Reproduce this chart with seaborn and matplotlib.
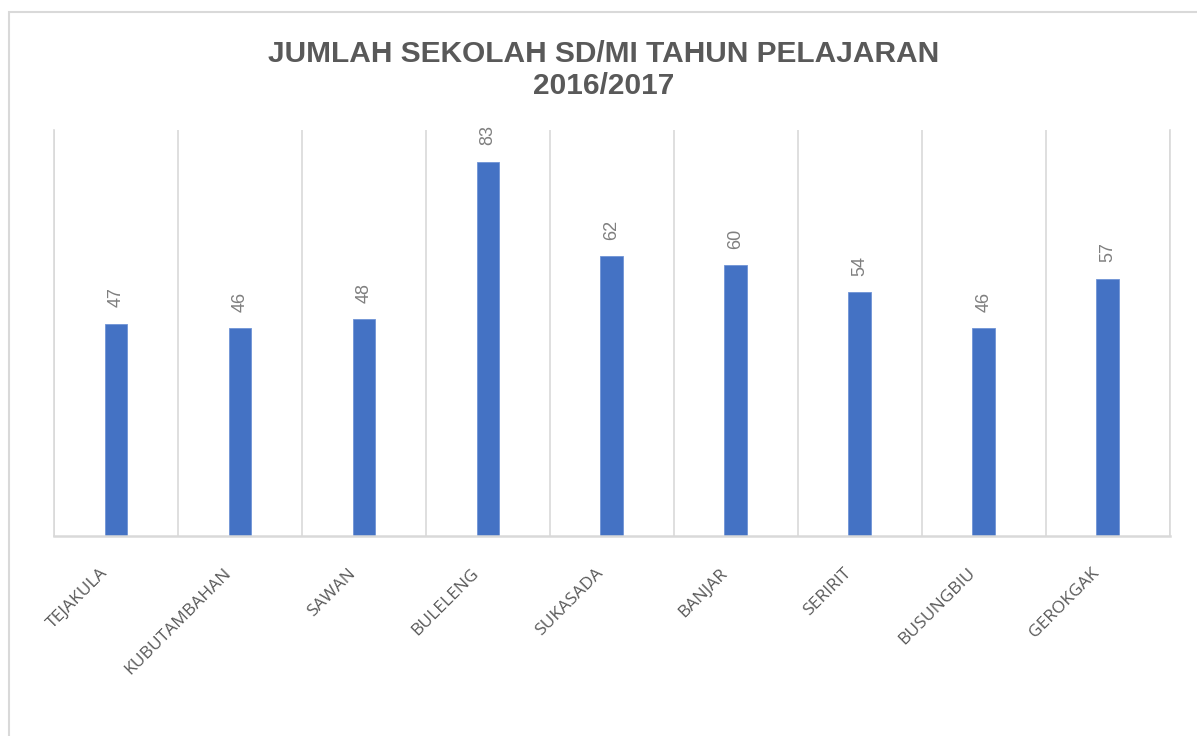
import numpy as np
import pandas as pd
import matplotlib
matplotlib.use("Agg")
import matplotlib.pyplot as plt
import matplotlib.transforms as mtransforms
from matplotlib.patches import Rectangle
import seaborn as sns

# data
kecamatan = ["TEJAKULA", "KUBUTAMBAHAN", "SAWAN", "BULELENG", "SUKASADA",
             "BANJAR", "SERIRIT", "BUSUNGBIU", "GEROKGAK"]
jumlah_sekolah = [47, 46, 48, 83, 62, 60, 54, 46, 57]
judul = "JUMLAH SEKOLAH SD/MI TAHUN PELAJARAN\n2016/2017"

df = pd.DataFrame({"kecamatan": kecamatan, "jumlah": jumlah_sekolah})

sns.set_style("white")
plt.rcParams["font.family"] = ["Liberation Sans", "DejaVu Sans"]

fig = plt.figure(figsize=(11.97, 7.36), dpi=100)
ax = fig.add_axes([0.0451, 0.2717, 0.9323, 0.5517])

sns.barplot(data=df, x="kecamatan", y="jumlah", color="#4472C4",
            width=0.185, saturation=1, ax=ax, edgecolor="#6f93d6", linewidth=0.6)

ax.set_ylim(0, 90)
ax.set_xlim(-0.5, len(kecamatan) - 0.5)

# garis vertikal di batas kategori
ax.set_xticks(np.arange(-0.5, len(kecamatan), 1), minor=True)
ax.grid(True, which="minor", axis="x", color="#d9d9d9", linewidth=1.2)
ax.grid(False, which="major")
ax.tick_params(which="both", length=0)
ax.set_yticks([])
for s in ["left", "right", "bottom"]:
    ax.spines[s].set_visible(True)
    ax.spines[s].set_color("#d9d9d9")
    ax.spines[s].set_linewidth(1.2)
ax.spines["top"].set_visible(False)
ax.spines["bottom"].set_linewidth(1.8)

ax.set_xlabel("")
ax.set_ylabel("")
ax.set_xticks(range(len(kecamatan)))
ax.set_xticklabels(kecamatan, rotation=45, ha="right", va="center",
                   rotation_mode="anchor", fontsize=12.5, color="#595959",
                   family=["Open Sans", "DejaVu Sans"])
ax.tick_params(axis="x", which="major", pad=25)
geser = mtransforms.ScaledTranslation(-8 / 72, 0, fig.dpi_scale_trans)
for lbl in ax.get_xticklabels():
    lbl.set_transform(lbl.get_transform() + geser)

# label nilai
for c in ax.containers:
    ax.bar_label(c, rotation=90, padding=12, fontsize=13, color="#7f7f7f")

fig.text(0.504, 0.905, judul, ha="center", va="center", fontsize=21.5,
         fontweight="bold", color="#595959", linespacing=1.2)

# bingkai chart
fig.patches.append(Rectangle((9 / 1197, -0.1), 1.2, (736 - 12) / 736 + 0.1,
                             transform=fig.transFigure, fill=False,
                             edgecolor="#d9d9d9", linewidth=1.5))

fig.savefig("out.png", dpi=100, facecolor="white")
